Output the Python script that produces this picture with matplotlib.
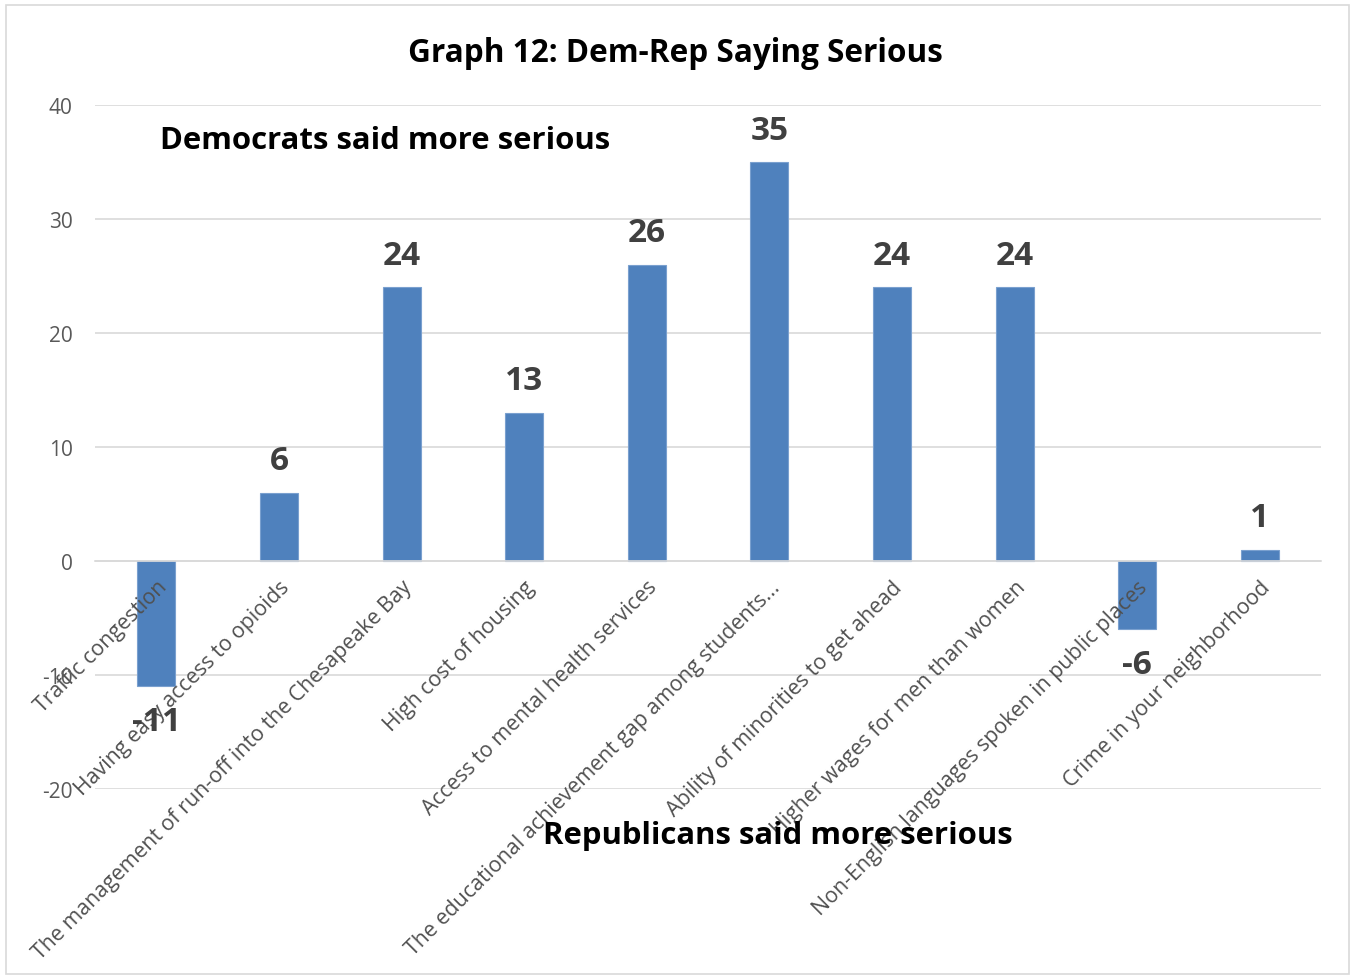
import matplotlib.pyplot as plt
from matplotlib.patches import Rectangle

plt.rcParams['font.family'] = ['Open Sans', 'DejaVu Sans']
plt.rcParams['axes.unicode_minus'] = False

categories = [
    'Traffic congestion',
    'Having easy access to opioids',
    'The management of run-off into the Chesapeake Bay',
    'High cost of housing',
    'Access to mental health services',
    'The educational achievement gap among students...',
    'Ability of minorities to get ahead',
    'Higher wages for men than women',
    'Non-English languages spoken in public places',
    'Crime in your neighborhood',
]
diffs = [-11, 6, 24, 13, 26, 35, 24, 24, -6, 1]
yticks = [-20, -10, 0, 10, 20, 30, 40]

fig = plt.figure(figsize=(13.51, 9.78), dpi=100)
ax = fig.add_axes([0.0703, 0.1922, 0.9077, 0.6994])

# gridlines under the bars, axis labels over them
for t in yticks:
    ax.axhline(t, color='#d9d9d9', linewidth=1.2, zorder=0)

x = list(range(len(categories)))
ax.bar(x, diffs, width=0.31, color='#4f81bd', edgecolor='#7aa0cf', linewidth=0.8, zorder=1)

for xi, v in zip(x, diffs):
    off = 23 if v >= 0 else -25
    ax.annotate(str(v), (xi, v), xytext=(0, off), textcoords='offset points',
                ha='center', va='center', fontsize=24, fontweight='bold',
                color='#404040', zorder=4)

ax.set_xlim(-0.5, len(categories) - 0.5)
ax.set_ylim(-20, 40)
ax.set_yticks(yticks)
ax.tick_params(axis='y', length=0, labelsize=15, labelcolor='#595959', pad=16)

# category labels hang off the zero line
for s in ['top', 'right', 'left']:
    ax.spines[s].set_visible(False)
ax.spines['bottom'].set_position(('data', 0))
ax.spines['bottom'].set_color('#d9d9d9')
ax.spines['bottom'].set_linewidth(1.2)
ax.set_xticks(x)
ax.set_xticklabels(categories, rotation=45, ha='right', va='top',
                   rotation_mode='anchor', fontsize=15.4, color='#505050')
ax.tick_params(axis='x', length=0, pad=11)

fig.text(0.5, 1 - 53 / 978, 'Graph 12: Dem-Rep Saying Serious', ha='center', va='center',
         fontsize=22.7, fontweight='bold', color='black')
fig.text(160 / 1351, 1 - 141 / 978, 'Democrats said more serious', ha='left', va='center',
         fontsize=22.4, fontweight='bold', color='black')
fig.text(543 / 1351, 1 - 836 / 978, 'Republicans said more serious', ha='left', va='center',
         fontsize=22.4, fontweight='bold', color='black', zorder=5)

fig.patches.append(Rectangle((6 / 1351, 3 / 978), 1343 / 1351, 969 / 978,
                             transform=fig.transFigure, fill=False,
                             edgecolor='#d9d9d9', linewidth=1.2))

fig.savefig('out.png', dpi=100)
